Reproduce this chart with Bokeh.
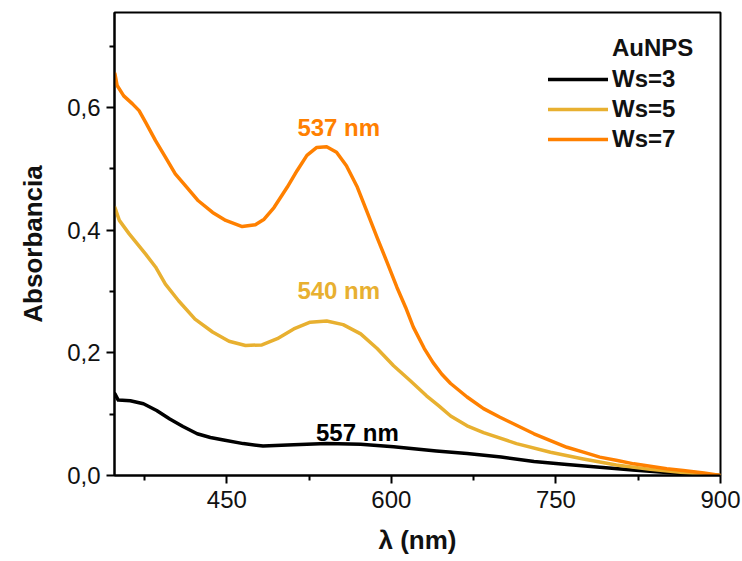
from bokeh.plotting import figure
from bokeh.models import (Range1d, FixedTicker, CustomJSTickFormatter, Legend,
                          LegendItem, Label)
from bokeh.embed import file_html
from bokeh.resources import INLINE

# UV-Vis absorption spectra of gold nanoparticles
wl_ws3 = [348, 351, 362, 374, 386, 398, 410, 423, 435, 447, 465, 483, 511,
          541, 572, 602, 641, 669, 700, 730, 760, 790, 820, 851, 875, 900]
abs_ws3 = [0.133, 0.123, 0.122, 0.117, 0.106, 0.092, 0.080, 0.068, 0.062,
           0.058, 0.052, 0.048, 0.050, 0.052, 0.051, 0.047, 0.040, 0.036,
           0.030, 0.023, 0.018, 0.0135, 0.009, 0.005, 0.002, 0.0]

wl_ws5 = [348, 352, 361, 376, 385, 394, 406, 421, 437, 452, 467, 482, 496,
          511, 526, 541, 556, 572, 587, 602, 617, 632, 643, 654, 669, 684,
          714, 745, 775, 805, 836, 866, 900]
abs_ws5 = [0.437, 0.416, 0.394, 0.361, 0.340, 0.312, 0.285, 0.255, 0.234,
           0.219, 0.212, 0.213, 0.223, 0.239, 0.250, 0.252, 0.246, 0.231,
           0.207, 0.179, 0.155, 0.130, 0.114, 0.097, 0.081, 0.070, 0.052,
           0.038, 0.027, 0.017, 0.010, 0.005, 0.0]

wl_ws7 = [348, 350, 356, 364, 370, 376, 385, 394, 403, 412, 424, 437, 449,
          464, 476, 484, 493, 505, 514, 523, 532, 541, 550, 559, 569, 578,
          587, 596, 605, 613, 620, 630, 638, 646, 654, 669, 684, 699, 714,
          730, 745, 760, 775, 790, 806, 821, 836, 851, 866, 885, 900]
abs_ws7 = [0.655, 0.636, 0.619, 0.606, 0.595, 0.576, 0.546, 0.519, 0.492,
           0.473, 0.448, 0.429, 0.416, 0.406, 0.409, 0.418, 0.437, 0.470,
           0.497, 0.522, 0.535, 0.536, 0.527, 0.505, 0.470, 0.429, 0.388,
           0.348, 0.307, 0.274, 0.242, 0.207, 0.184, 0.165, 0.150, 0.128,
           0.109, 0.095, 0.082, 0.068, 0.057, 0.046, 0.038, 0.030, 0.0245,
           0.019, 0.015, 0.011, 0.008, 0.004, 0.0]

series_names = ["Ws=3", "Ws=5", "Ws=7"]
peak_nm = [557, 540, 537]

x_major = [450, 600, 750, 900]
x_minor = [375, 525, 675, 825]
y_major = [0.0, 0.2, 0.4, 0.6]
y_minor = [0.1, 0.3, 0.5, 0.7]

colors = ["#000000", "#E8B030", "#FF8000"]
FONT = "Liberation Sans"

p = figure(width=742, height=561, output_backend="svg", toolbar_location=None,
           x_range=Range1d(347.6, 900), y_range=Range1d(0, 0.755),
           min_border_left=114, min_border_right=22, min_border_top=12,
           min_border_bottom=86)
p.xgrid.visible = False
p.ygrid.visible = False
p.outline_line_color = "black"
p.outline_line_width = 2
p.background_fill_color = "white"
p.border_fill_color = "white"

renderers = []
for wl, ab, c in zip([wl_ws3, wl_ws5, wl_ws7], [abs_ws3, abs_ws5, abs_ws7], colors):
    r = p.line(wl, ab, line_color=c, line_width=3.5, line_join="round",
               line_cap="round")
    renderers.append(r)

for ax, major, minor in ((p.xaxis[0], x_major, x_minor), (p.yaxis[0], y_major, y_minor)):
    ax.ticker = FixedTicker(ticks=major, minor_ticks=minor)
    ax.axis_line_width = 2
    ax.major_tick_line_width = 2
    ax.minor_tick_line_width = 2
    ax.major_tick_out = 8
    ax.major_tick_in = 0
    ax.minor_tick_out = 5
    ax.minor_tick_in = 0
    ax.major_label_text_font = FONT
    ax.major_label_text_font_size = "24px"
    ax.major_label_text_color = "#111111"
    ax.axis_label_text_font = FONT
    ax.axis_label_text_font_size = "26px"
    ax.axis_label_text_font_style = "bold"
    ax.axis_label_text_color = "#111111"

p.yaxis[0].formatter = CustomJSTickFormatter(
    code="return tick.toFixed(1).replace('.', ',');")
p.xaxis[0].axis_label = "λ (nm)"
p.yaxis[0].axis_label = "Absorbancia"
p.xaxis[0].major_label_standoff = 7
p.yaxis[0].major_label_standoff = 6
p.xaxis[0].axis_label_standoff = 14
p.yaxis[0].axis_label_standoff = 16

# peak annotations
label_pos = [(569, 0.070), (552, 0.302), (552, 0.567)]
for (lx, ly), pk, c in zip(label_pos, peak_nm, colors):
    p.add_layout(Label(x=lx, y=ly, text=f"{pk} nm", text_color=c,
                       text_font=FONT, text_font_size="24px",
                       text_font_style="bold", text_align="center",
                       text_baseline="middle"))

# legend
legend = Legend(items=[LegendItem(label=n, renderers=[r])
                       for n, r in zip(series_names, renderers)],
                location=(434, 322), glyph_width=60, glyph_height=24,
                label_height=24, label_standoff=4, spacing=2, padding=0,
                margin=0, border_line_alpha=0, background_fill_alpha=0,
                label_text_font=FONT, label_text_font_size="24px",
                label_text_font_style="bold", label_text_color="#111111")
p.add_layout(legend)
p.add_layout(Label(x=801, y=0.698, text="AuNPS", text_font=FONT,
                   text_font_size="24px", text_font_style="bold",
                   text_color="#111111", text_align="left",
                   text_baseline="middle"))

open("out.html", "w").write(file_html(p, INLINE))
